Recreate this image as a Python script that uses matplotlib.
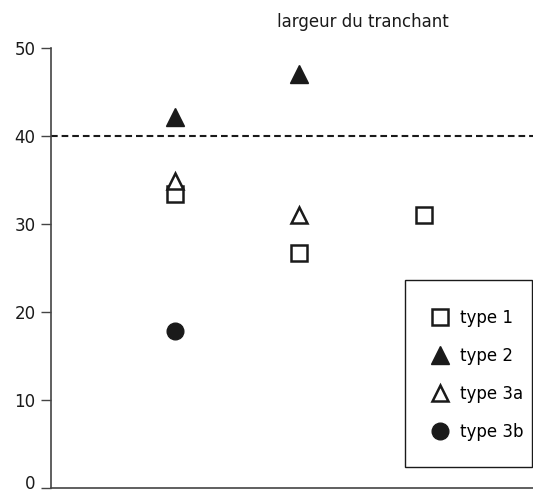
import matplotlib.pyplot as plt
import matplotlib.transforms as mtransforms
from matplotlib.patches import Rectangle

# values
type1_x = [1, 2, 3]
type1_y = [33.4, 26.7, 31.0]
type2_x = [1, 2]
type2_y = [42.2, 47.0]
type3a_x = [1, 2]
type3a_y = [34.9, 31.0]
type3b_x = [1]
type3b_y = [17.8]
seuil = 40
yticks = [0, 10, 20, 30, 40, 50]

ink = "#1a1a1a"
fs = 12

fig = plt.figure(figsize=(5.33, 4.90), dpi=100)
ax = fig.add_axes([51 / 533, 2 / 490, 1 - 51 / 533, 440 / 490])

ax.axhline(seuil, color=ink, lw=1.5, dashes=(3.2, 1.9))

ax.plot(type1_x, type1_y, ls="none", marker="s", ms=12, mfc="white", mec=ink, mew=1.8, label="type 1")
ax.plot(type2_x, type2_y, ls="none", marker="^", ms=13, mfc=ink, mec=ink, mew=1, label="type 2")
ax.plot(type3a_x, type3a_y, ls="none", marker="^", ms=12, mfc="white", mec=ink, mew=1.8, label="type 3a", zorder=3)
ax.plot(type3b_x, type3b_y, ls="none", marker="o", ms=12, mfc=ink, mec=ink, mew=1, label="type 3b")

ax.set_xlim(0, 3.88)
ax.set_ylim(0, 50)
ax.set_yticks(yticks)
ax.set_xticks([])
ax.tick_params(axis="y", length=7, width=1, color="#444444", pad=4, labelsize=fs, labelcolor=ink)
for s in ["top", "right"]:
    ax.spines[s].set_visible(False)
for s in ["left", "bottom"]:
    ax.spines[s].set_color("#444444")
    ax.spines[s].set_linewidth(1.2)

# lift the "0" label a little so it stays inside the picture
lab0 = ax.yaxis.get_major_ticks()[0].label1
lab0.set_transform(lab0.get_transform() + mtransforms.ScaledTranslation(0, 4.5 / 72, fig.dpi_scale_trans))

fig.text(363 / 533, 1 - 22 / 490, "largeur du tranchant", ha="center", va="center", fontsize=fs, color=ink)

# legend box drawn separately (the reference has a lot of room above the entries)
fig.patches.append(Rectangle((405 / 533, 1 - 467 / 490), 127 / 533, 187 / 490, transform=fig.transFigure,
                             fill=False, edgecolor=ink, lw=1.0, figure=fig))
ax.legend(loc="center left", bbox_to_anchor=(429 / 533, 1 - 375 / 490), bbox_transform=fig.transFigure,
          fontsize=fs, frameon=False, borderpad=0, borderaxespad=0, labelspacing=1.2,
          handletextpad=0.55, handlelength=1.3)

fig.savefig("out.png", dpi=100)
